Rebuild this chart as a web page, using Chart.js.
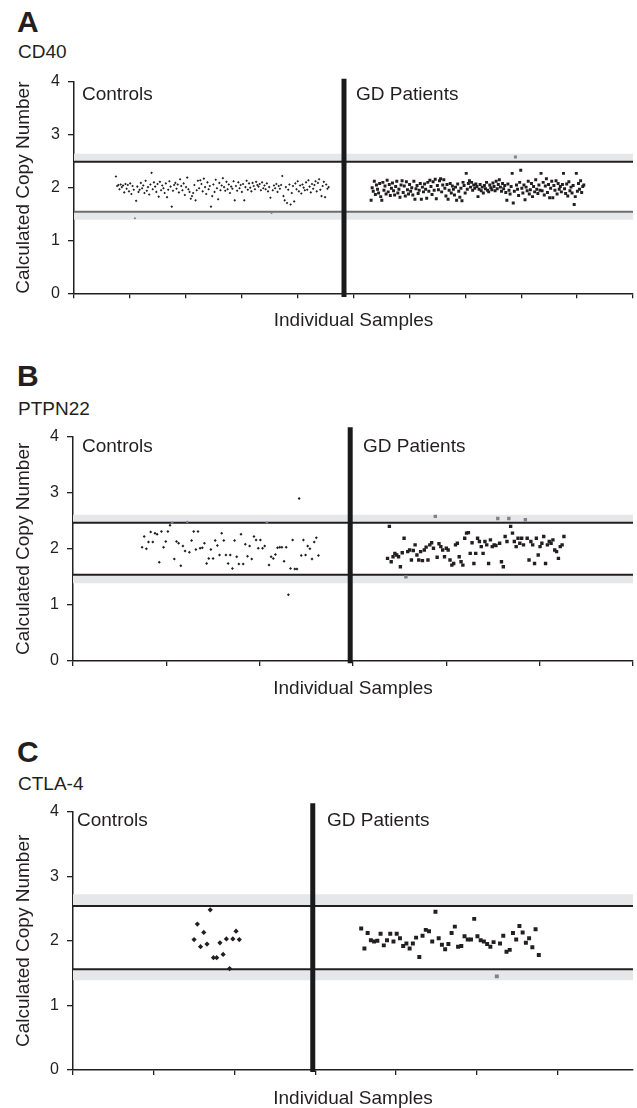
<!DOCTYPE html>
<html>
<head>
<meta charset="utf-8">
<script src="https://cdn.jsdelivr.net/npm/chart.js@4.4.1/dist/chart.umd.min.js"></script>
<style>
html, body { margin: 0; padding: 0; background: #fff; overflow: hidden; }
body { width: 637px; height: 1108px; position: relative; font-family: "Liberation Sans", Arial, sans-serif; color: #231f20; }
.t { position: absolute; line-height: 1; white-space: nowrap; }
.letter { font-weight: bold; font-size: 30px; }
.gene, .grp { font-size: 19px; }
canvas { position: absolute; left: 0; }
</style>
</head>
<body>
<div class="t letter" style="left:17px;top:7px">A</div>
<div class="t gene" style="left:18px;top:42px">CD40</div>
<div class="t letter" style="left:17px;top:361px">B</div>
<div class="t gene" style="left:18px;top:399px">PTPN22</div>
<div class="t letter" style="left:17px;top:737px">C</div>
<div class="t gene" style="left:18px;top:774px">CTLA-4</div>

<canvas id="chartA" width="637" height="280" style="top:60px"></canvas>
<canvas id="chartB" width="637" height="300" style="top:410px"></canvas>
<canvas id="chartC" width="637" height="325" style="top:790px"></canvas>

<div class="t grp" style="left:82px;top:84px">Controls</div>
<div class="t grp" style="left:356px;top:84px">GD Patients</div>
<div class="t grp" style="left:82px;top:436px">Controls</div>
<div class="t grp" style="left:363px;top:436px">GD Patients</div>
<div class="t grp" style="left:77px;top:810px">Controls</div>
<div class="t grp" style="left:327px;top:810px">GD Patients</div>

<script>
// copy number per sample, in plotting order
let cd40Controls = [
  2.21, 2.03, 2.05, 1.97, 2.06, 2.01, 2.04, 1.91, 2.07, 1.98,
  2.05, 1.93, 2.08, 1.88, 2.03, 1.96, 1.42, 1.75, 2.02, 1.92,
  1.96, 2.09, 1.99, 2.04, 1.90, 2.13, 1.94, 2.01, 1.87, 2.06,
  2.28, 1.97, 2.10, 2.02, 1.92, 2.07, 1.83, 2.11, 1.95, 2.04,
  1.99, 1.90, 2.08, 1.82, 1.96, 2.12, 2.02, 1.64, 1.94, 2.05,
  2.09, 1.98, 2.06, 1.91, 2.16, 2.03, 1.95, 2.08, 1.86, 2.01,
  2.19, 1.97, 1.92, 1.79, 1.84, 1.90, 2.05, 1.76, 1.95, 2.13,
  1.99, 2.14, 2.07, 1.93, 2.17, 2.01, 1.88, 2.10, 1.97, 2.03,
  1.64, 1.84, 2.06, 1.92, 2.15, 1.99, 1.78, 2.09, 1.95, 2.04,
  2.18, 2.01, 1.94, 2.11, 1.97, 2.06, 1.90, 2.02, 1.98, 2.12,
  1.76, 2.03, 1.94, 2.10, 1.99, 2.05, 1.92, 2.07, 1.76, 2.01,
  2.13, 1.96, 2.08, 2.00, 1.93, 2.09, 2.03, 1.97, 2.11, 2.05,
  2.02, 2.07, 1.95, 2.10, 1.99, 2.04, 1.97, 2.08, 1.93, 2.01,
  1.81, 1.52, 1.95, 2.04, 1.99, 2.07, 1.92, 2.03, 1.98, 2.05,
  2.22, 1.84, 1.76, 2.01, 1.71, 1.96, 2.06, 1.68, 1.90, 2.03,
  1.74, 2.08, 1.97, 2.12, 1.93, 2.04, 1.89, 2.06, 2.00, 1.95,
  2.10, 1.96, 2.14, 2.02, 1.91, 2.07, 1.98, 2.05, 2.12, 1.93,
  2.09, 2.16, 1.96, 1.84, 2.03, 2.11, 1.82, 2.06, 1.98, 2.01
];
let cd40Patients = [
  1.76, 2.00, 1.93, 2.12, 1.87, 2.05, 1.97, 1.90, 2.08, 1.83,
  1.76, 2.10, 1.95, 2.03, 1.88, 2.14, 1.92, 2.06, 1.85, 1.99,
  2.09, 1.94, 1.86, 2.02, 2.12, 1.90, 1.97, 1.82, 2.05, 2.13,
  1.91, 2.03, 1.84, 2.11, 1.96, 1.88, 2.06, 1.93, 2.00, 1.86,
  2.12, 1.78, 1.98, 2.04, 1.89, 1.95, 2.08, 1.78, 2.01, 1.92,
  2.07, 1.97, 1.80, 2.10, 1.93, 2.14, 2.02, 1.87, 2.11, 1.95,
  2.16, 1.79, 2.04, 1.96, 2.13, 2.17, 1.92, 2.05, 2.15, 1.99,
  1.84, 2.06, 1.78, 1.95, 2.08, 1.90, 2.03, 1.97, 1.86, 2.01,
  1.76, 2.07, 1.93, 1.82, 1.99, 1.75, 2.10, 2.04, 1.90, 2.27,
  1.97, 2.08, 2.13, 2.01, 2.10, 1.95, 2.05, 1.99, 2.07, 2.02,
  1.83, 1.97, 2.06, 1.94, 2.01, 1.90, 2.04, 1.98, 2.10, 1.95,
  1.92, 2.05, 2.00, 1.96, 2.09, 2.02, 1.94, 2.12, 1.98, 2.06,
  2.15, 2.01, 1.93, 2.08, 1.98, 2.04, 1.91, 1.76, 2.07, 1.95,
  1.88, 2.02, 2.27, 1.71, 1.93, 2.58, 2.05, 1.97, 1.85, 2.10,
  2.33, 1.99, 1.90, 2.05, 1.77, 2.01, 1.94, 2.12, 1.88, 1.96,
  2.08, 1.83, 2.02, 1.92, 2.15, 1.97, 1.89, 2.05, 1.95, 2.27,
  1.94, 2.10, 1.86, 2.03, 2.17, 1.91, 2.06, 1.81, 1.99, 2.12,
  1.81, 2.04, 1.95, 2.13, 1.88, 2.08, 1.97, 2.02, 1.92, 2.06,
  2.27, 1.98, 1.89, 2.07, 1.84, 2.11, 1.94, 2.01, 1.90, 2.04,
  1.68, 1.83, 2.27, 1.93, 2.08, 1.97, 2.13, 1.91, 2.02, 2.05
];
let cd40Cutoffs = [1.545, 2.49];
let cd40Bands = [[1.39, 1.545], [2.49, 2.64]];

let ptpn22Controls = [
  2.03, 2.22, 2.00, 2.12, 2.30, 2.12, 2.28, 2.26, 1.76, 2.31,
  2.03, 2.13, 2.31, 2.42, 2.47, 1.82, 2.13, 2.10, 1.70, 2.05,
  1.96, 2.48, 1.94, 2.15, 2.31, 1.99, 2.31, 2.01, 2.02, 2.10,
  1.74, 1.83, 1.99, 1.83, 2.15, 2.06, 1.89, 2.28, 2.15, 1.89,
  1.74, 1.89, 1.65, 2.15, 1.86, 1.73, 2.26, 1.73, 2.08, 1.87,
  2.05, 1.82, 2.22, 2.16, 2.01, 2.16, 2.01, 2.05, 2.47, 1.71,
  1.86, 1.83, 1.90, 2.02, 2.03, 2.03, 1.78, 2.03, 1.18, 1.65,
  2.16, 1.64, 1.64, 2.90, 1.88, 2.16, 1.89, 2.05, 2.00, 1.82,
  2.12, 2.20, 1.88
];
let ptpn22Patients = [
  1.83, 2.40, 1.77, 1.86, 1.92, 1.89, 1.86, 1.68, 1.93, 2.19,
  1.50, 1.95, 1.98, 1.80, 1.97, 2.07, 1.89, 1.80, 1.95, 1.79,
  1.98, 2.03, 1.80, 2.07, 2.11, 2.01, 2.58, 1.85, 2.09, 2.04,
  1.98, 1.86, 2.01, 1.98, 1.80, 1.71, 1.74, 2.07, 2.10, 1.86,
  1.77, 1.71, 2.19, 2.28, 2.29, 1.92, 2.11, 1.74, 1.92, 2.19,
  2.13, 2.04, 1.92, 2.13, 2.07, 1.74, 2.16, 2.04, 2.07, 2.06,
  2.54, 2.10, 1.77, 1.68, 2.22, 2.13, 2.54, 2.40, 2.28, 2.13,
  2.04, 2.19, 2.10, 2.19, 2.07, 2.52, 2.19, 1.80, 2.13, 2.07,
  1.74, 2.19, 1.89, 2.04, 2.10, 2.22, 1.74, 2.07, 2.13, 2.10,
  2.16, 1.98, 1.95, 1.83, 2.04, 2.07, 2.22
];
let ptpn22Cutoffs = [1.54, 2.465];
let ptpn22Bands = [[1.385, 1.54], [2.465, 2.61]];

let ctla4Controls = [2.02, 2.26, 1.91, 2.13, 1.95, 2.48, 1.74, 1.74, 1.97, 1.79, 2.03, 1.57, 2.03, 2.15, 2.02];
let ctla4Patients = [
  2.19, 1.88, 2.12, 2.01, 1.99, 2.00, 2.11, 1.93, 2.01, 2.11,
  1.99, 2.11, 2.04, 1.92, 1.96, 1.88, 1.96, 2.05, 1.75, 2.08,
  2.17, 2.15, 1.99, 2.45, 2.04, 1.94, 1.87, 1.95, 2.12, 2.22,
  1.91, 1.92, 2.07, 2.02, 2.02, 2.34, 2.07, 2.01, 1.99, 1.95,
  1.91, 1.98, 1.45, 1.96, 2.08, 1.83, 1.86, 2.12, 2.02, 2.23,
  2.13, 1.97, 2.04, 1.90, 2.18, 1.78
];
let ctla4Cutoffs = [1.56, 2.54];
let ctla4Bands = [[1.39, 1.56], [2.54, 2.72]];

const INK = '#231f20';
const GREY = '#808285';
const BAND = '#e6e7e8';

Chart.defaults.font.family = '"Liberation Sans", Arial, sans-serif';
Chart.defaults.color = INK;

// sample order -> position along the x axis
function spread(values, from, to) {
  return values.map((v, i) => ({x: from + i * (to - from) / (values.length - 1), y: v}));
}

function drawPanel(p) {
  const inBand = v => p.bands.some(b => v >= b[0] && v <= b[1]);
  const dotColor = c => inBand(c.raw.y) ? GREY : INK;

  const hLine = (y, color) => ({
    type: 'line', data: [{x: 0, y: y}, {x: p.xMax, y: y}],
    borderColor: color, borderWidth: 2, pointRadius: 0, fill: false
  });
  const band = b => ({
    type: 'line', data: [{x: 0, y: b[1]}, {x: p.xMax, y: b[1]}],
    borderColor: 'rgba(0,0,0,0)', borderWidth: 1, pointRadius: 0,
    backgroundColor: BAND, fill: {value: b[0]}
  });

  new Chart(document.getElementById(p.id), {
    type: 'scatter',
    data: {
      datasets: [
        {
          label: 'Controls', data: spread(p.controls, p.ctrlSpan[0], p.ctrlSpan[1]),
          pointStyle: 'rectRot', pointRadius: p.ctrlSize, pointBorderWidth: 0,
          pointBackgroundColor: dotColor
        },
        {
          label: 'GD Patients', data: spread(p.patients, p.gdSpan[0], p.gdSpan[1]),
          pointStyle: 'rect', pointRadius: p.gdSize, pointBorderWidth: 0,
          pointBackgroundColor: dotColor
        },
        {
          type: 'line', data: [{x: p.divider, y: p.divY[0]}, {x: p.divider, y: p.divY[1]}],
          borderColor: '#1a1a1a', borderWidth: 5, pointRadius: 0, clip: false, fill: false
        },
        hLine(p.cutoffs[1], INK),
        hLine(p.cutoffs[0], p.lowColor),
        band(p.bands[0]),
        band(p.bands[1])
      ]
    },
    options: {
      responsive: false,
      animation: false,
      devicePixelRatio: 1,
      layout: {padding: {top: p.padTop, right: p.padRight, bottom: 0, left: 0}},
      plugins: {legend: {display: false}, tooltip: {enabled: false}},
      scales: {
        x: {
          type: 'linear', min: 0, max: p.xMax,
          afterFit: s => { s.height = p.xAxisH; },
          ticks: {stepSize: 1, autoSkip: false, includeBounds: false, callback: () => ''},
          grid: {drawOnChartArea: false, drawTicks: true, tickLength: 5, color: INK, lineWidth: 1.3},
          border: {color: INK, width: 1.5},
          title: {display: true, text: 'Individual Samples', color: INK, font: {size: 19},
                  padding: {top: 0, bottom: p.xTitlePad}}
        },
        y: {
          min: 0, max: 4,
          afterFit: s => { s.width = p.yAxisW; },
          ticks: {stepSize: 1, padding: 8, color: INK, font: {size: 16}},
          grid: {drawOnChartArea: false, tickLength: 6, color: INK, lineWidth: 1.3},
          border: {color: INK, width: 1.5},
          title: {display: true, text: 'Calculated Copy Number', color: INK, font: {size: 19},
                  padding: {top: 12, bottom: 0}}
        }
      }
    }
  });
}

drawPanel({
  id: 'chartA', controls: cd40Controls, patients: cd40Patients,
  cutoffs: cd40Cutoffs, bands: cd40Bands, lowColor: '#6d6e71',
  xMax: 10, ctrlSpan: [0.75, 4.555], gdSpan: [5.315, 9.12], divider: 4.83, divY: [-0.07, 4.06],
  ctrlSize: 1.3, gdSize: 2.1,
  padTop: 22, padRight: 1, xAxisH: 46.7, yAxisW: 74, xTitlePad: 8
});

drawPanel({
  id: 'chartB', controls: ptpn22Controls, patients: ptpn22Patients,
  cutoffs: ptpn22Cutoffs, bands: ptpn22Bands, lowColor: INK,
  xMax: 6, ctrlSpan: [0.74, 2.63], gdSpan: [3.37, 5.26], divider: 2.97, divY: [-0.04, 4.17],
  ctrlSize: 1.5, gdSize: 2.4,
  padTop: 26.7, padRight: 0, xAxisH: 49, yAxisW: 73, xTitlePad: 10
});

drawPanel({
  id: 'chartC', controls: ctla4Controls, patients: ctla4Patients,
  cutoffs: ctla4Cutoffs, bands: ctla4Bands, lowColor: INK,
  xMax: 6.937, ctrlSpan: [1.5, 2.06], gdSpan: [3.57, 5.77], divider: 2.97, divY: [-0.03, 4.13],
  ctrlSize: 2.6, gdSize: 2.8,
  padTop: 21.7, padRight: 0, xAxisH: 45, yAxisW: 73, xTitlePad: 5
});
</script>
</body>
</html>
